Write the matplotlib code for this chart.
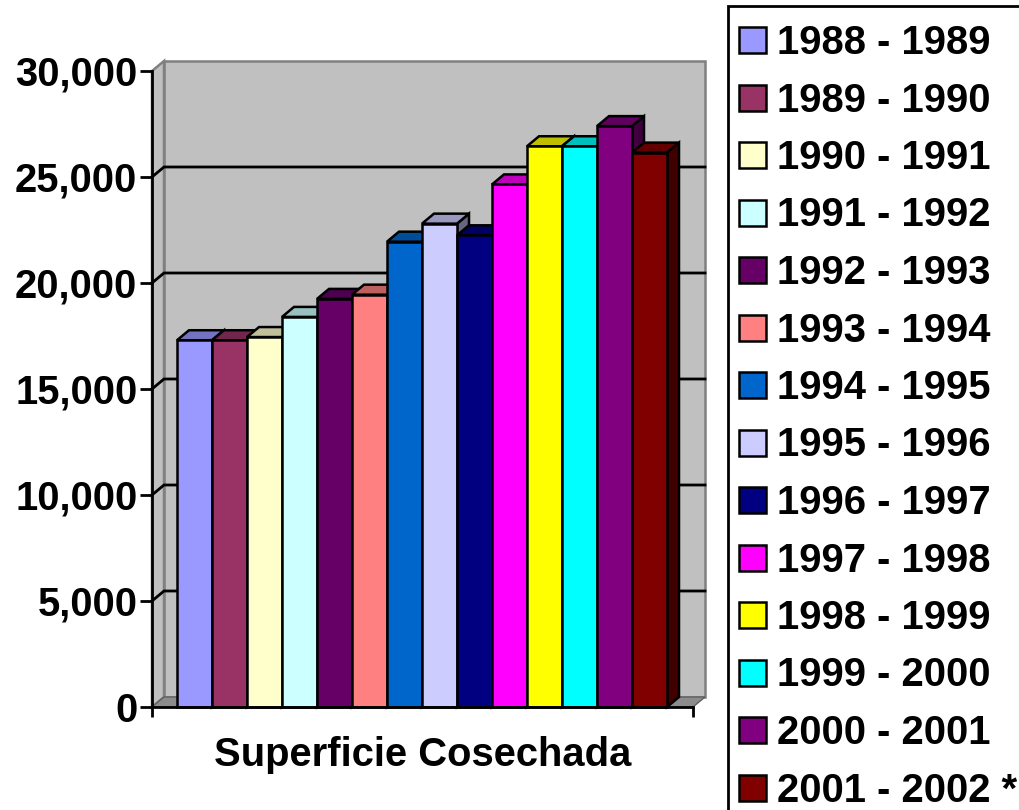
import numpy as np
import matplotlib
matplotlib.use('Agg')
import matplotlib.pyplot as plt
from matplotlib.patches import Polygon, Rectangle
from matplotlib.colors import to_rgb

# --- data ---
seasons = ['1988 - 1989', '1989 - 1990', '1990 - 1991', '1991 - 1992',
           '1992 - 1993', '1993 - 1994', '1994 - 1995', '1995 - 1996',
           '1996 - 1997', '1997 - 1998', '1998 - 1999', '1999 - 2000',
           '2000 - 2001', '2001 - 2002 *']
area = [17300, 17300, 17450, 18400, 19250, 19450, 21950,
        22800, 22250, 24650, 26450, 26450, 27400, 26150]
colors = ['#9999FF', '#993366', '#FFFFCC', '#CCFFFF', '#660066', '#FF8080',
          '#0066CC', '#CCCCFF', '#000080', '#FF00FF', '#FFFF00', '#00FFFF',
          '#800080', '#800000']
yticks = [0, 5000, 10000, 15000, 20000, 25000, 30000]
ytick_labels = ['0', '5,000', '10,000', '15,000', '20,000', '25,000', '30,000']
category = 'Superficie Cosechada'

plt.rcParams['font.family'] = ['Liberation Sans', 'DejaVu Sans']
plt.rcParams['font.weight'] = 'bold'
FS = 28.8

W, H = 1019, 810
fig = plt.figure(figsize=(W / 100, H / 100), dpi=100)

def fx(px):
    return px / W

def fy(py):
    return 1 - py / H

# front plane of the 3d box, in pixels
X0, X1, Y0, Y1 = 152, 693, 707, 71
ax = fig.add_axes([fx(X0), fy(Y0), (X1 - X0) / W, (Y0 - Y1) / H])
ax.patch.set_visible(False)

bar_px = 35.0
xl = -0.5 - 25 / bar_px
xr = xl + (X1 - X0) / bar_px
ymax = 30000
ax.set_xlim(xl, xr)
ax.set_ylim(0, ymax)

# depth offset of the 3d effect, converted to data units
dx = 12 * (xr - xl) / (X1 - X0)
dy = 10 * ymax / (Y0 - Y1)

wall = '#C0C0C0'
wall_edge = '#808080'
# back wall, side wall, floor
ax.add_patch(Polygon([(xl + dx, dy), (xr + dx, dy), (xr + dx, ymax + dy), (xl + dx, ymax + dy)],
                     closed=True, fc=wall, ec=wall_edge, lw=1.8, clip_on=False, zorder=0))
ax.add_patch(Polygon([(xl, 0), (xl + dx, dy), (xl + dx, ymax + dy), (xl, ymax)],
                     closed=True, fc=wall, ec=wall_edge, lw=1.8, clip_on=False, zorder=0))
ax.add_patch(Polygon([(xl, 0), (xr, 0), (xr + dx, dy), (xl + dx, dy)],
                     closed=True, fc='#8C8C8C', ec='#606060', lw=1.0, clip_on=False, zorder=0.5))

for v in yticks[1:-1]:
    ax.plot([xl, xl + dx, xr + dx], [v, v + dy, v + dy], color='black', lw=2.0,
            clip_on=False, zorder=1, solid_joinstyle='miter')

def shade(c, f):
    return tuple(np.array(to_rgb(c)) * f)

for i, (v, c) in enumerate(zip(area, colors)):
    z = 2 + i * 0.01
    a, b = i - 0.5, i + 0.5
    ax.add_patch(Polygon([(b, 0), (b + dx, dy), (b + dx, v + dy), (b, v)], closed=True,
                         fc=shade(c, 0.5), ec='black', lw=1.8, clip_on=False, zorder=z))
    ax.add_patch(Polygon([(a, v), (b, v), (b + dx, v + dy), (a + dx, v + dy)], closed=True,
                         fc=shade(c, 0.75), ec='black', lw=1.8, clip_on=False, zorder=z))
    ax.add_patch(Rectangle((a, 0), 1, v, fc=c, ec='black', lw=1.8, clip_on=False, zorder=z))

for s in ['top', 'right']:
    ax.spines[s].set_visible(False)
for s in ['left', 'bottom']:
    ax.spines[s].set_linewidth(2.0)
    ax.spines[s].set_zorder(5)

ax.set_yticks(yticks)
ax.set_yticklabels(ytick_labels, fontsize=FS, fontweight='bold')
ax.tick_params(axis='y', direction='out', length=8.6, width=2.0, pad=2)
ax.set_xticks([xl, xr])
ax.set_xticklabels(['', ''])
ax.tick_params(axis='x', direction='out', length=7.2, width=2.0)

fig.text(fx((X0 + X1) / 2), fy(766), category, ha='center', va='baseline',
         fontsize=FS, fontweight='bold')

# legend box drawn by hand to match the reference placement
fig.add_artist(Rectangle((fx(728), fy(830)), (1040 - 728) / W, (830 - 6) / H,
                         transform=fig.transFigure, fill=False, ec='black', lw=2.0))
for i, (lab, c) in enumerate(zip(seasons, colors)):
    yc = 40 + i * 57.5
    fig.add_artist(Rectangle((fx(739), fy(yc + 13)), 27 / W, 26 / H,
                             transform=fig.transFigure, fc=c, ec='black', lw=1.8))
    fig.text(fx(777), fy(yc + 14), lab, ha='left', va='baseline',
             fontsize=FS, fontweight='bold')

fig.savefig('out.png', dpi=100)
